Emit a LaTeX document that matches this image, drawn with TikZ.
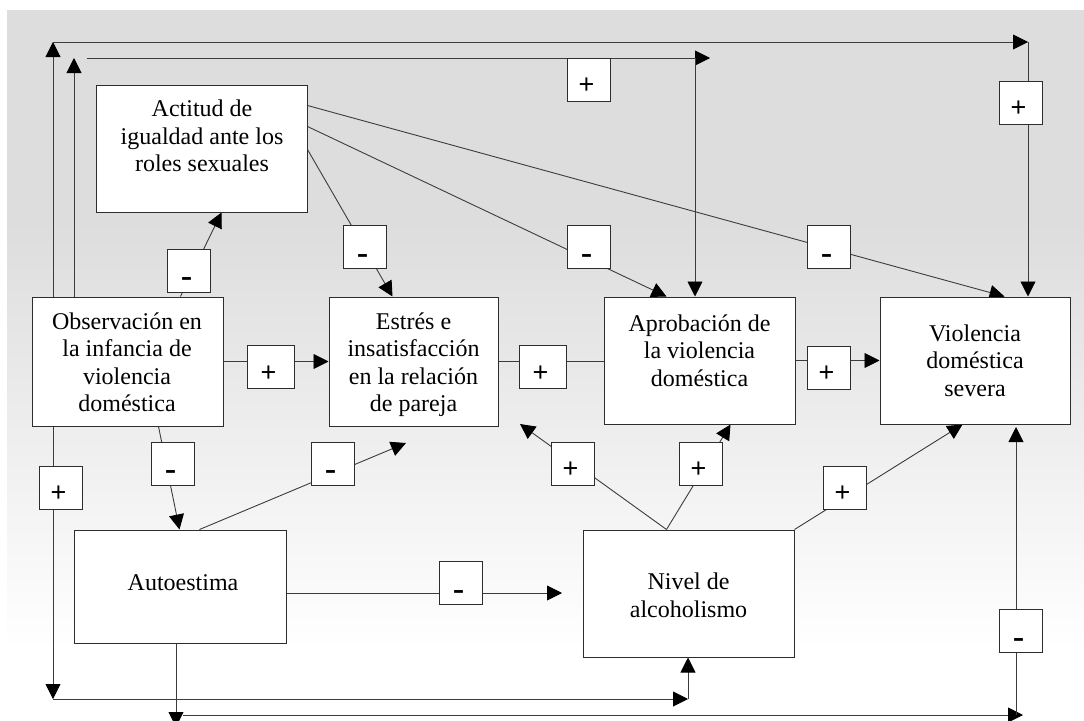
\documentclass[tikz,border=0pt]{standalone}
\usepackage{fontspec}
\setmainfont{Liberation Serif}
\newfontfamily\signfont{Liberation Sans}
\usetikzlibrary{arrows.meta}

\definecolor{bggrey}{RGB}{221,221,221}
\definecolor{edgecol}{RGB}{60,60,60}
\definecolor{framecol}{RGB}{45,45,45}

% soft grey-to-white backdrop
\pgfdeclareverticalshading{bgfade}{100bp}{color(0bp)=(white); color(30bp)=(white); color(60bp)=(bggrey); color(100bp)=(bggrey)}

\pgfdeclarelayer{edges}
\pgfsetlayers{edges,main}

\tikzset{
  varbox/.style={draw=framecol, fill=white, line width=1pt, inner sep=0pt},
  vartext/.style={anchor=north, inner sep=0pt, align=center, font=\fontsize{24}{27.5}\selectfont},
  signbox/.style={draw=framecol, fill=white, line width=0.9pt, minimum width=43pt, minimum height=43pt, inner sep=0pt},
  widesign/.style={signbox, minimum width=47pt},
  signplus/.style={inner sep=0pt, font=\signfont\fontsize{27}{30}\selectfont, xshift=-2pt, yshift=-6.5pt},
  signminus/.style={inner sep=0pt, font=\signfont\fontsize{36}{40}\selectfont, xshift=-2pt, yshift=-13pt},
  link/.style={draw=edgecol, line width=0.9pt},
  pointed/.style={-{Triangle[length=15pt,width=15pt,color=black]}},
}

\newcommand{\firstline}{\rule{0pt}{17pt}}

\begin{document}
\begin{tikzpicture}[x=1pt,y=-1pt]
\useasboundingbox (0,0) rectangle (1084,720);

% variables
\node[varbox, minimum width=211pt, minimum height=127pt] (act) at (201.5,148.5) {};
\node[varbox, minimum width=191pt, minimum height=129pt] (obs) at (127.5,361.5) {};
\node[varbox, minimum width=169pt, minimum height=129pt] (est) at (413.5,361.5) {};
\node[varbox, minimum width=191pt, minimum height=127pt] (apr) at (699.5,360.5) {};
\node[varbox, minimum width=190pt, minimum height=127pt] (vio) at (975,360.5) {};
\node[varbox, minimum width=212pt, minimum height=113pt] (aut) at (180,586.5) {};
\node[varbox, minimum width=211pt, minimum height=127pt] (niv) at (688.5,593.5) {};

\node[vartext] (act-t) at (202,99.7) {\firstline Actitud de\\igualdad ante los\\roles sexuales};
\node[vartext] (obs-t) at (127,312) {\firstline Observación en\\la infancia de\\violencia\\doméstica};
\node[vartext] (est-t) at (413.5,312) {\firstline Estrés e\\insatisfacción\\en la relación\\de pareja};
\node[vartext] (apr-t) at (699.5,314) {\firstline Aprobación de\\la violencia\\doméstica};
\node[vartext] (vio-t) at (975,324) {\firstline Violencia\\doméstica\\severa};
\node[vartext] (aut-t) at (183,573) {\firstline Autoestima};
\node[vartext] (niv-t) at (688.5,572.3) {\firstline Nivel de\\alcoholismo};

% polarity signs
\node[signbox] (s1) at (588.5,79.5) {};   \node[signplus]  (s1t) at (s1.center) {+};
\node[signbox] (s2) at (1020.5,102.5) {}; \node[signplus]  (s2t) at (s2.center) {+};
\node[signbox] (s3) at (828.5,247) {};    \node[signminus] (s3t) at (s3.center) {-};
\node[signbox] (s4) at (588.5,247) {};    \node[signminus] (s4t) at (s4.center) {-};
\node[signbox] (s5) at (364.5,247) {};    \node[signminus] (s5t) at (s5.center) {-};
\node[signbox] (s6) at (188.5,270.5) {};  \node[signminus] (s6t) at (s6.center) {-};
\node[widesign] (s7) at (270.5,367) {};   \node[signplus]  (s7t) at (s7.center) {+};
\node[widesign] (s8) at (542.5,367) {};   \node[signplus]  (s8t) at (s8.center) {+};
\node[signbox] (s9) at (828.5,367.5) {};  \node[signplus]  (s9t) at (s9.center) {+};
\node[signbox] (s10) at (172.5,463.5) {}; \node[signminus] (s10t) at (s10.center) {-};
\node[signbox] (s11) at (332.5,463.5) {}; \node[signminus] (s11t) at (s11.center) {-};
\node[signbox] (s12) at (60.5,487.5) {};  \node[signplus]  (s12t) at (s12.center) {+};
\node[signbox] (s13) at (572.5,463.5) {}; \node[signplus]  (s13t) at (s13.center) {+};
\node[signbox] (s14) at (700.5,463.5) {}; \node[signplus]  (s14t) at (s14.center) {+};
\node[signbox] (s15) at (844.5,487.5) {}; \node[signplus]  (s15t) at (s15.center) {+};
\node[signbox] (s16) at (460.5,583) {};   \node[signminus] (s16t) at (s16.center) {-};
\node[signbox] (s17) at (1020.5,631) {};  \node[signminus] (s17t) at (s17.center) {-};

% corners of the routed loops and free arrow ends
\coordinate (o1) at (53,42);   \coordinate (o2) at (1028,42);
\coordinate (i1) at (74,58);   \coordinate (i2) at (87,58);
\coordinate (i3) at (710,58);  \coordinate (i4) at (695,58);
\coordinate (b1) at (53,699);  \coordinate (b2) at (688,699);
\coordinate (c1) at (176,727); \coordinate (c2) at (183,715);
\coordinate (c3) at (1023,715); \coordinate (c4) at (1016,715);
\coordinate (c5) at (1016,427);
\coordinate (f1) at (406,443); \coordinate (f2) at (520,424);
\coordinate (f3) at (562,593);

\begin{pgfonlayer}{edges}
\shade[shading=bgfade] (7,10) rectangle (1084,720);

% upper loops
\draw[link,pointed] (o1 |- obs.north) -- (o1);
\draw[link,pointed] (o1) -- (o2);
\draw[link,pointed] (o2) -- (o2 |- vio.north);
\draw[link,pointed] (i1 |- obs.north) -- (i1);
\draw[link,pointed] (i2) -- (i3);
\draw[link,pointed] (i4) -- (i4 |- apr.north);

% links from the attitude box
\draw[link,pointed] ([xshift=149pt]obs.north west) -- ([xshift=126pt]act.south west);
\draw[link,pointed] ([yshift=-65pt]act.north east) -- ([xshift=64pt]est.north west);
\draw[link,pointed] ([yshift=-42pt]act.north east) -- ([xshift=63pt]apr.north west);
\draw[link,pointed] ([yshift=-21pt]act.north east) -- ([xshift=125pt]vio.north west);

% main chain
\draw[link,pointed] (obs.east) -- (est.west);
\draw[link] (est.east) -- (est.east -| apr.west);
\draw[link,pointed] (apr.east) -- (vio.west);

% self-esteem and alcoholism
\draw[link,pointed] ([xshift=127pt]obs.south west) -- ([xshift=106pt]aut.north west);
\draw[link,pointed] ([xshift=126pt]aut.north west) -- (f1);
\draw[link,pointed] ([xshift=84pt]niv.north west) -- (f2);
\draw[link,pointed] ([xshift=84pt]niv.north west) -- ([xshift=127pt]apr.south west);
\draw[link,pointed] (niv.north east) -- ([xshift=83pt]vio.south west);
\draw[link,pointed] (aut.east |- f3) -- (f3);

% lower loops
\draw[link,pointed] (b1 |- obs.south) -- (b1);
\draw[link,pointed] (b1) -- (b2);
\draw[link,pointed] (b2) -- (b2 |- niv.south);
\draw[link,pointed] (c1 |- aut.south) -- (c1);
\draw[link,pointed] (c2) -- (c3);
\draw[link,pointed] (c4) -- (c5);
\end{pgfonlayer}
\end{tikzpicture}
\end{document}
